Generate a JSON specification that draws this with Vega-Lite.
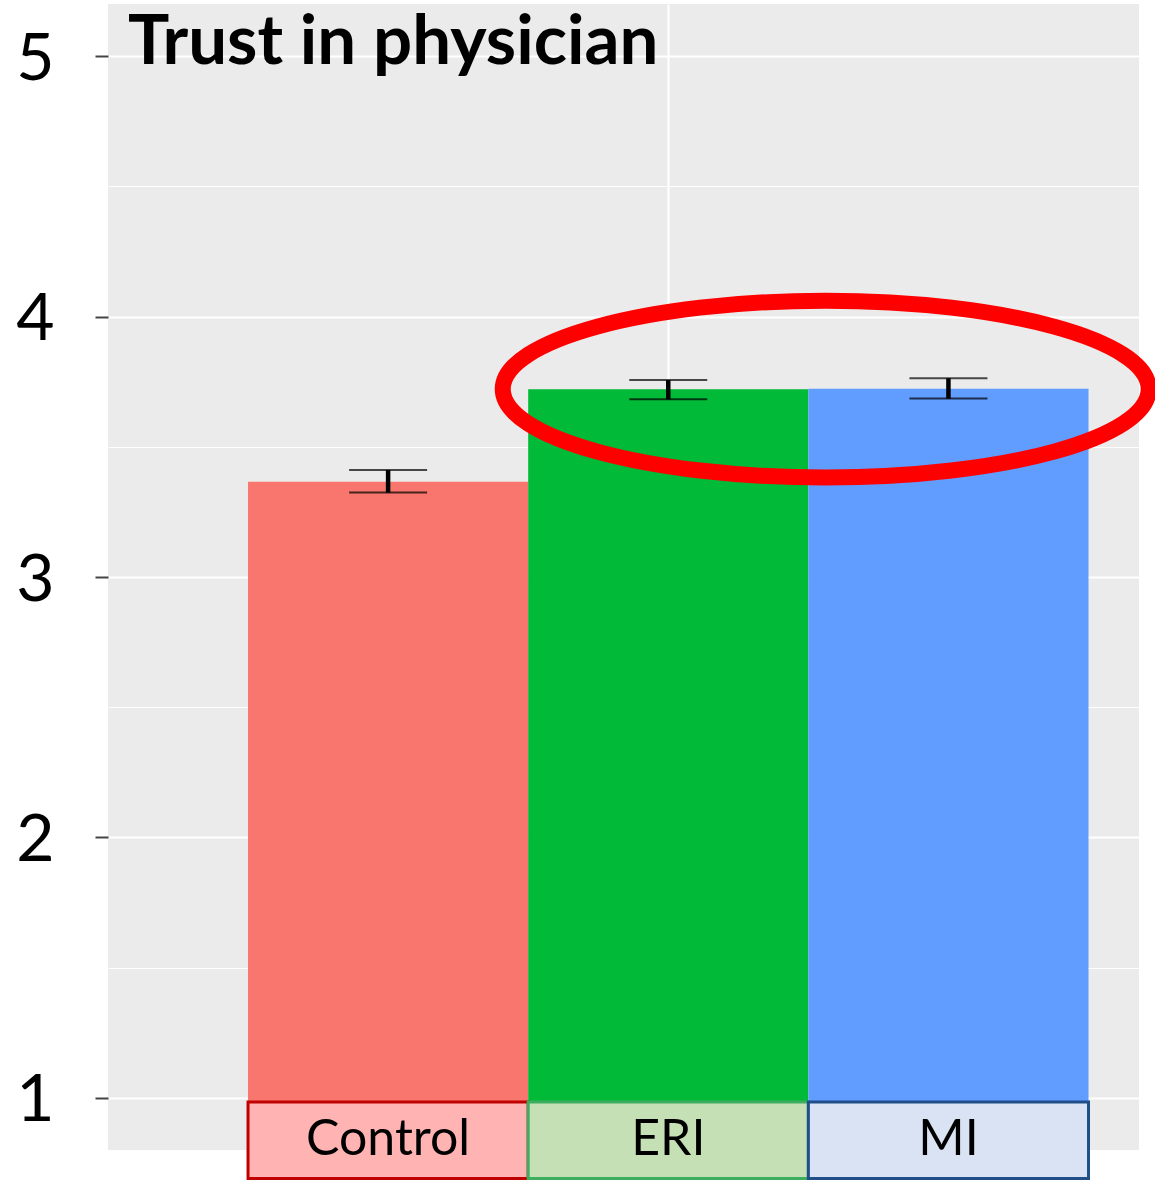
{
  "$schema": "https://vega.github.io/schema/vega-lite/v6.json",
  "autosize": {"type": "none"},
  "width": 1031,
  "height": 1146,
  "padding": {"left": 108, "top": 4, "right": 16, "bottom": 30},
  "background": "white",
  "view": {"fill": "#EBEBEB", "stroke": null},
  "title": {
    "text": "Trust in physician",
    "anchor": "start",
    "frame": "group",
    "orient": "top",
    "baseline": "top",
    "offset": 0,
    "dx": 20,
    "dy": 74,
    "font": "Lato",
    "fontSize": 69,
    "fontWeight": "bold",
    "color": "black"
  },
  "data": {
    "values": [
      {"group": "Control", "mean": 3.366, "lo": 3.324, "hi": 3.411},
      {"group": "ERI", "mean": 3.721, "lo": 3.682, "hi": 3.756},
      {"group": "MI", "mean": 3.723, "lo": 3.685, "hi": 3.763}
    ]
  },
  "encoding": {
    "x": {
      "field": "group",
      "type": "nominal",
      "scale": {"paddingInner": 0, "paddingOuter": 0.34, "align": 0.735},
      "axis": {
        "title": null,
        "values": ["ERI"],
        "labels": false,
        "ticks": false,
        "domain": false,
        "grid": true,
        "bandPosition": 0.5,
        "gridColor": "white",
        "gridWidth": 2.2
      }
    }
  },
  "layer": [
    {
      "mark": {"type": "bar", "opacity": 1},
      "encoding": {
        "y": {
          "field": "mean",
          "type": "quantitative",
          "scale": {"domain": [0.8, 5.2], "nice": false, "zero": false},
          "axis": {
            "title": null,
            "values": [1, 1.5, 2, 2.5, 3, 3.5, 4, 4.5, 5],
            "labelExpr": "datum.value % 1 === 0 ? format(datum.value, 'd') : ''",
            "labelFont": "Lato",
            "labelFontSize": 66,
            "labelColor": "black",
            "labelAlign": "center",
            "labelBaseline": "middle",
            "labelPadding": 60,
            "labelOffset": 3,
            "tickSize": 13,
            "tickWidth": 2,
            "tickColor": "#444444",
            "tickOpacity": {"condition": {"test": "datum.value % 1 === 0", "value": 1}, "value": 0},
            "domain": false,
            "grid": true,
            "gridColor": "white",
            "gridWidth": {"condition": {"test": "datum.value % 1 === 0", "value": 2.2}, "value": 1.2}
          }
        },
        "y2": {"datum": 0.8},
        "color": {
          "field": "group",
          "type": "nominal",
          "scale": {"domain": ["Control", "ERI", "MI"], "range": ["#F8766D", "#00BA38", "#619CFF"]},
          "legend": null
        }
      }
    },
    {
      "mark": {"type": "rule", "color": "black", "strokeWidth": 4.5},
      "encoding": {
        "y": {"field": "lo", "type": "quantitative"},
        "y2": {"field": "hi"}
      }
    },
    {
      "mark": {"type": "tick", "orient": "horizontal", "color": "black", "size": 78, "thickness": 2},
      "encoding": {"y": {"field": "lo", "type": "quantitative"}}
    },
    {
      "mark": {"type": "tick", "orient": "horizontal", "color": "black", "size": 78, "thickness": 2},
      "encoding": {"y": {"field": "hi", "type": "quantitative"}}
    },
    {
      "mark": {"type": "rect", "strokeWidth": 3, "clip": false},
      "encoding": {
        "y": {"datum": 0.984},
        "y2": {"datum": 0.6905},
        "fill": {
          "field": "group",
          "type": "nominal",
          "scale": {"domain": ["Control", "ERI", "MI"], "range": ["#FFB3B3", "#C5E0B4", "#DAE3F3"]},
          "legend": null
        },
        "stroke": {
          "field": "group",
          "type": "nominal",
          "scale": {"domain": ["Control", "ERI", "MI"], "range": ["#C00000", "#3DAE5F", "#1F4E89"]},
          "legend": null
        }
      }
    },
    {
      "mark": {"type": "text", "font": "Lato", "fontSize": 50, "color": "black", "baseline": "middle", "align": "center", "clip": false},
      "encoding": {
        "y": {"datum": 0.838},
        "text": {"field": "group"}
      }
    },
    {
      "data": {"values": [{"note": "highlight"}]},
      "mark": {
        "type": "point",
        "shape": "M-1,0A1,0.2737,0,1,1,1,0A1,0.2737,0,1,1,-1,0Z",
        "size": 417316,
        "filled": false,
        "stroke": "#FF0000",
        "strokeWidth": 16,
        "opacity": 1,
        "clip": false
      },
      "encoding": {
        "x": {"datum": "MI", "bandPosition": 0.062},
        "y": {"datum": 3.7214}
      }
    }
  ]
}
